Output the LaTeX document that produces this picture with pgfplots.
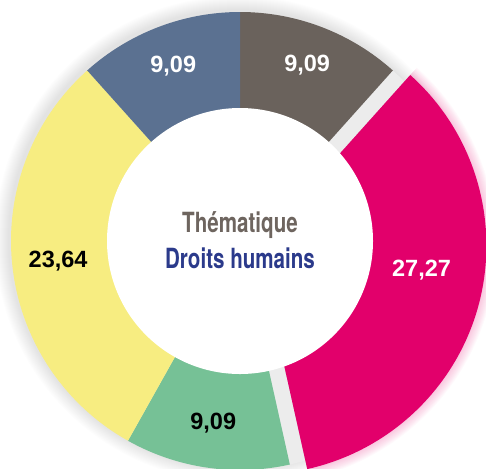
\documentclass[border=0pt]{standalone}
\usepackage{pgfplots}
\pgfplotsset{compat=1.18}
\usepackage{pgfplotstable}
\usepackage{fontspec}
\setmainfont{Liberation Sans}
\newfontfamily\condfont[FakeStretch=0.74]{TeX Gyre Heros}
\definecolor{cBrown}{HTML}{6A625C}
\definecolor{cPink}{HTML}{E2006B}
\definecolor{cGreen}{HTML}{76C196}
\definecolor{cYellow}{HTML}{F7ED81}
\definecolor{cBlue}{HTML}{5B7191}
\definecolor{cGap}{HTML}{ECECEC}
\definecolor{cTitle}{HTML}{6E655F}
\definecolor{cSub}{HTML}{2B3A8B}
\newcommand\lblfont{\fontsize{11.75}{14}\selectfont\bfseries}
\pgfplotstableread{
val col tcol off lr ld
9.09 cBrown white 0 188 0
27.27 cPink white 18 166 6
9.09 cGreen black 0 184 0
23.64 cYellow black 0 183 0
9.09 cBlue white 0 187 0
}\data
% sector: idx, cx, cy, outer radius (px), colour
\newcommand\sector[5]{%
  \fill[fill=#5] (axis cs:#2,#3) ++(\csname sa#1\endcsname:#4*0.5pt)
    arc[start angle=\csname sa#1\endcsname,end angle=\csname sb#1\endcsname,radius=#4*0.5pt]
    -- (axis cs:#2,#3) -- cycle;}
\begin{document}
\begin{tikzpicture}
\pgfplotstablegetrowsof{\data}
\pgfmathtruncatemacro\nr{\pgfplotsretval-1}
\xdef\tot{0}
\foreach \i in {0,...,\nr}{%
  \pgfplotstablegetelem{\i}{val}\of\data
  \pgfmathsetmacro\tmp{\tot+\pgfplotsretval}%
  \xdef\tot{\tmp}}
\xdef\cum{0}
\foreach \i in {0,...,\nr}{%
  \pgfplotstablegetelem{\i}{val}\of\data \edef\myV{\pgfplotsretval}%
  \pgfplotstablegetelem{\i}{off}\of\data \edef\myO{\pgfplotsretval}%
  \pgfplotstablegetelem{\i}{lr}\of\data \edef\myLR{\pgfplotsretval}%
  \pgfplotstablegetelem{\i}{ld}\of\data \edef\myLD{\pgfplotsretval}%
  \pgfplotstablegetelem{\i}{col}\of\data \expandafter\xdef\csname sc\i\endcsname{\pgfplotsretval}%
  \pgfplotstablegetelem{\i}{tcol}\of\data \expandafter\xdef\csname st\i\endcsname{\pgfplotsretval}%
  \pgfmathsetmacro\sA{90-360*(\cum/\tot)}%
  \pgfmathsetmacro\tmp{\cum+\myV}%
  \xdef\cum{\tmp}%
  \pgfmathsetmacro\sB{90-360*(\cum/\tot)}%
  \pgfmathsetmacro\sM{(\sA+\sB)/2}%
  \pgfmathsetmacro\myX{240+\myO*cos(\sM)}%
  \pgfmathsetmacro\myY{227+\myO*sin(\sM)}%
  \pgfmathsetmacro\myLX{\myX+\myLR*cos(\sM+\myLD)}%
  \pgfmathsetmacro\myLY{\myY+\myLR*sin(\sM+\myLD)}%
  \expandafter\xdef\csname sa\i\endcsname{\sA}%
  \expandafter\xdef\csname sb\i\endcsname{\sB}%
  \expandafter\xdef\csname sx\i\endcsname{\myX}%
  \expandafter\xdef\csname sy\i\endcsname{\myY}%
  \expandafter\xdef\csname lx\i\endcsname{\myLX}%
  \expandafter\xdef\csname ly\i\endcsname{\myLY}%
  \expandafter\xdef\csname sv\i\endcsname{\myV}%
}
\begin{axis}[x=0.5pt, y=0.5pt, xmin=0, xmax=486, ymin=0, ymax=468,
  hide axis, scale only axis, at={(0,0)}, anchor=south west]
% soft outer shadow
\pgfplotsinvokeforeach{1,...,14}{
  \fill[black, opacity=0.007] (axis cs:238,229) circle[radius=114.5pt+#1*0.5pt];
}
% empty slot of the exploded sector
\sector{1}{240}{227}{229}{cGap}
% regular sectors
\pgfplotsinvokeforeach{0,2,3,4}{
  \sector{#1}{\csname sx#1\endcsname}{\csname sy#1\endcsname}{229}{\csname sc#1\endcsname}
}
% glow of the exploded sector
\pgfplotsinvokeforeach{1,...,10}{
  \fill[cPink, opacity=0.025] (axis cs:\csname sx1\endcsname,\csname sy1\endcsname) ++(\csname sa1\endcsname:114.5pt+#1*0.5pt)
    arc[start angle=\csname sa1\endcsname,end angle=\csname sb1\endcsname,radius=114.5pt+#1*0.5pt]
    -- (axis cs:\csname sx1\endcsname,\csname sy1\endcsname) -- cycle;
}
\sector{1}{\csname sx1\endcsname}{\csname sy1\endcsname}{229}{\csname sc1\endcsname}
% hole
\fill[white] (axis cs:240,227) circle[radius=66.5pt];
% value labels
\pgfplotsinvokeforeach{0,...,4}{
  \node[text=\csname st#1\endcsname, font=\lblfont, inner sep=0pt]
    at (axis cs:\csname lx#1\endcsname,\csname ly#1\endcsname)
    {\pgfmathprintnumber[assume math mode=true, use comma, fixed, fixed zerofill, precision=2]{\csname sv#1\endcsname}};
}
% centre text
\node[anchor=base, text=cTitle, font=\condfont\bfseries\fontsize{13.9}{16}\selectfont, inner sep=0pt]
  at (axis cs:240,236) {Thématique};
\node[anchor=base, text=cSub, font=\condfont\bfseries\fontsize{13.9}{16}\selectfont, inner sep=0pt]
  at (axis cs:240,200) {Droits humains};
\end{axis}
\pgfresetboundingbox
\path[use as bounding box] (0,0) rectangle (243pt,234pt);
\end{tikzpicture}
\end{document}
